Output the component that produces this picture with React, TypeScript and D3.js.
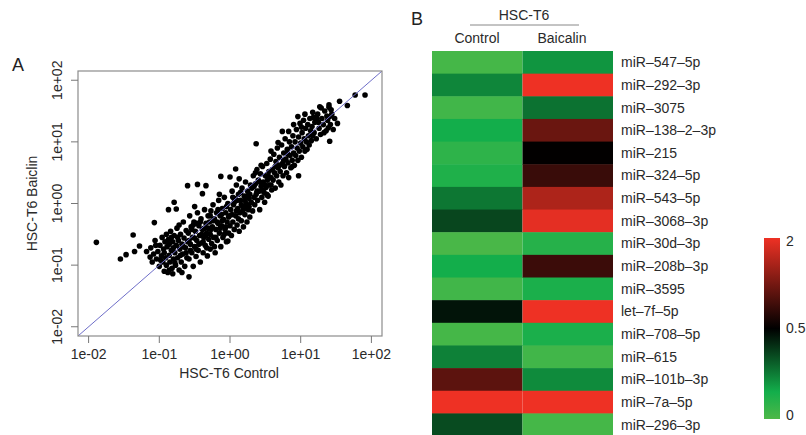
import React, { useEffect, useRef } from 'react';
import * as d3 from 'd3';

// Panel A: log10 expression, [control, baicalin]
const expressionLog10: [number, number][] = [
  // sparse points
  [-1.89, -0.63], [-1.55, -0.9], [-1.47, -0.83], [-1.37, -0.51], [-1.35, -0.78], [-1.28, -0.69],
  [-1.18, -0.78], [-1.07, -0.31], [-1.13, -0.87], [-0.87, -0.1], [-0.76, -0.09], [-0.79, 0.02],
  [-0.6, 0.29], [-0.46, 0.31], [-0.34, 0.29], [-0.58, -1.19], [-0.86, -1.08], [-0.81, -1.14],
  [-0.03, -0.61], [-0.28, -0.74], [0.37, 0.97], [0.58, 0.85], [0.97, 0.45], [0.53, 0.13],
  [0.74, 1.17], [0.83, 1.17], [0.96, 1.41], [1.06, 1.45], [1.17, 1.48], [1.27, 1.57],
  [1.4, 1.56], [1.39, 1.23], [1.41, 1.01], [1.52, 1.3], [1.55, 1.66], [1.66, 1.59],
  [1.77, 1.76], [1.91, 1.76], [0.08, 0.56], [-0.13, 0.44], [0.0, 0.43], [0.68, 0.99],
  [-0.5, -0.05], [-0.39, 0.16], [1.41, 1.41], [1.23, 1.38], [0.9, 1.28], [1.01, 1.24],
  // dense band
  [-1.12, -0.72], [-1.1, -0.95], [-1.08, -0.82], [-1.06, -0.6], [-1.04, -0.9], [-1.02, -0.78],
  [-1.0, -1.02], [-0.99, -0.68], [-0.97, -0.85], [-0.96, -0.55], [-0.95, -0.95], [-0.94, -0.74],
  [-0.93, -1.1], [-0.92, -0.62], [-0.91, -0.88], [-0.9, -0.5], [-0.9, -1.0], [-1.05, -0.68],
  [-0.98, -0.92], [-0.93, -0.8],
  [-0.89, -0.7], [-0.88, -1.12], [-0.87, -0.58], [-0.86, -0.84], [-0.85, -0.95], [-0.84, -0.45],
  [-0.83, -0.76], [-0.82, -1.05], [-0.81, -0.62], [-0.8, -0.9], [-0.79, -0.52], [-0.78, -0.8],
  [-0.77, -1.0], [-0.76, -0.68], [-0.75, -0.4], [-0.74, -0.88], [-0.73, -0.6], [-0.72, -1.08],
  [-0.71, -0.74], [-0.7, -0.5], [-0.69, -0.95], [-0.68, -0.66], [-0.67, -0.82], [-0.66, -0.3],
  [-0.65, -0.56], [-0.64, -1.02], [-0.63, -0.72], [-0.62, -0.44], [-0.61, -0.88], [-0.6, -0.62],
  [-0.86, -0.66], [-0.8, -0.72], [-0.74, -0.55], [-0.7, -0.84], [-0.66, -0.7], [-0.78, -0.96],
  [-0.83, -0.55], [-0.72, -0.35], [-0.68, -1.12], [-0.62, -0.8],
  [-0.59, -0.48], [-0.58, -0.9], [-0.57, -0.2], [-0.56, -0.66], [-0.55, -0.38], [-0.54, -0.8],
  [-0.53, -0.55], [-0.52, -1.02], [-0.51, -0.3], [-0.5, -0.7], [-0.49, -0.45], [-0.48, -0.86],
  [-0.47, -0.6], [-0.46, -0.15], [-0.45, -0.76], [-0.44, -0.36], [-0.43, -0.52], [-0.42, -0.95],
  [-0.41, -0.25], [-0.4, -0.64], [-0.39, -0.42], [-0.38, -0.8], [-0.37, -0.55], [-0.36, -0.1],
  [-0.35, -0.68], [-0.34, -0.32], [-0.33, -0.48], [-0.32, -0.85], [-0.31, -0.2], [-0.3, -0.58],
  [-0.58, -0.6], [-0.54, -0.42], [-0.5, -0.56], [-0.47, -0.32], [-0.44, -0.66], [-0.4, -0.5],
  [-0.36, -0.4], [-0.33, -0.72], [-0.56, -0.76], [-0.52, -0.35], [-0.48, -0.74], [-0.42, -0.3],
  [-0.38, -0.62], [-0.34, -0.52], [-0.31, -0.4],
  [-0.29, -0.3], [-0.28, -0.5], [-0.27, -0.12], [-0.26, -0.65], [-0.25, -0.38], [-0.24, -0.02],
  [-0.23, -0.55], [-0.22, -0.25], [-0.21, -0.8], [-0.2, -0.42], [-0.19, -0.15], [-0.18, -0.6],
  [-0.17, -0.32], [-0.16, 0.05], [-0.15, -0.48], [-0.14, -0.2], [-0.13, -0.7], [-0.12, -0.36],
  [-0.11, -0.08], [-0.1, -0.55], [-0.09, -0.26], [-0.08, 0.1], [-0.07, -0.42], [-0.06, -0.15],
  [-0.05, -0.62], [-0.04, -0.3], [-0.03, 0.0], [-0.02, -0.48], [-0.01, -0.2], [0.0, -0.36],
  [-0.27, -0.42], [-0.24, -0.28], [-0.2, -0.55], [-0.17, -0.1], [-0.14, -0.4], [-0.11, -0.28],
  [-0.08, -0.5], [-0.05, -0.05], [-0.02, -0.22], [-0.22, -0.7], [-0.28, -0.2], [-0.18, -0.3],
  [-0.12, -0.18], [-0.06, -0.38], [-0.15, 0.15],
  [0.01, -0.1], [0.02, -0.52], [0.03, 0.2], [0.04, -0.3], [0.05, -0.02], [0.06, -0.42],
  [0.07, 0.08], [0.08, -0.2], [0.09, 0.3], [0.1, -0.35], [0.11, -0.08], [0.12, 0.15],
  [0.13, -0.45], [0.14, -0.15], [0.15, 0.05], [0.16, -0.28], [0.17, 0.25], [0.18, -0.05],
  [0.19, -0.38], [0.2, 0.12], [0.21, -0.18], [0.22, 0.35], [0.23, 0.0], [0.24, -0.3],
  [0.25, 0.2], [0.26, -0.1], [0.27, 0.08], [0.28, -0.22], [0.29, 0.3], [0.3, 0.02],
  [0.03, -0.18], [0.06, 0.02], [0.09, -0.12], [0.12, -0.25], [0.15, 0.18], [0.18, -0.12],
  [0.21, 0.05], [0.24, 0.12], [0.27, -0.05], [0.04, 0.1], [0.1, 0.05], [0.16, -0.02],
  [0.22, -0.08], [0.28, 0.15], [0.13, 0.4],
  [0.31, 0.25], [0.32, -0.12], [0.33, 0.45], [0.34, 0.1], [0.35, -0.02], [0.36, 0.32],
  [0.37, 0.15], [0.38, 0.55], [0.39, 0.05], [0.4, 0.38], [0.41, 0.2], [0.42, -0.1],
  [0.43, 0.48], [0.44, 0.28], [0.45, 0.1], [0.46, 0.6], [0.47, 0.35], [0.48, 0.18],
  [0.49, 0.02], [0.5, 0.45], [0.51, 0.26], [0.52, 0.65], [0.53, 0.38], [0.54, 0.12],
  [0.55, 0.52], [0.56, 0.3], [0.57, 0.72], [0.58, 0.42], [0.59, 0.22], [0.6, 0.55],
  [0.34, 0.28], [0.38, 0.2], [0.42, 0.35], [0.46, 0.22], [0.5, 0.3], [0.54, 0.45],
  [0.58, 0.3], [0.36, 0.5], [0.44, 0.62], [0.52, 0.15],
  [0.61, 0.38], [0.62, 0.8], [0.63, 0.5], [0.64, 0.25], [0.65, 0.68], [0.66, 0.45],
  [0.67, 0.9], [0.68, 0.58], [0.69, 0.35], [0.7, 0.75], [0.71, 0.52], [0.72, 0.3],
  [0.73, 0.95], [0.74, 0.65], [0.75, 0.45], [0.76, 0.82], [0.77, 0.6], [0.78, 1.05],
  [0.79, 0.72], [0.8, 0.5], [0.81, 0.88], [0.82, 0.66], [0.83, 0.42], [0.84, 1.0],
  [0.85, 0.78], [0.86, 0.58], [0.87, 0.92], [0.88, 0.7], [0.89, 1.1], [0.9, 0.82],
  [0.64, 0.6], [0.7, 0.62], [0.76, 0.7], [0.82, 0.8], [0.88, 0.6],
  [0.91, 0.62], [0.92, 1.0], [0.93, 0.78], [0.94, 1.2], [0.95, 0.9], [0.96, 0.7],
  [0.97, 1.08], [0.98, 0.85], [0.99, 1.3], [1.0, 0.98], [1.01, 0.75], [1.02, 1.15],
  [1.03, 0.92], [1.04, 1.35], [1.05, 1.05], [1.06, 0.85], [1.07, 1.22], [1.08, 1.0],
  [1.09, 0.88], [1.1, 1.28], [1.11, 1.1], [1.12, 0.95], [1.13, 1.38], [1.14, 1.18],
  [1.15, 1.02], [1.16, 1.25], [1.17, 1.1], [1.18, 1.4], [1.19, 1.15], [1.2, 1.32],
  [1.22, 1.05], [1.24, 1.45], [1.26, 1.22], [1.28, 1.12], [1.3, 1.38], [1.32, 1.28],
  [1.34, 1.5], [1.36, 1.18], [1.38, 1.35], [1.4, 1.6], [1.42, 1.28], [1.44, 1.45],
  [1.46, 1.2], [1.48, 1.38], [1.25, 1.32], [1.33, 1.15], [1.21, 1.4], [1.29, 1.55],
  [1.37, 1.42], [1.43, 1.52],
];

const logTicks = [0.01, 0.1, 1, 10, 100];
const logTickLabels = ['1e-02', '1e-01', '1e+00', '1e+01', '1e+02'];

// Panel B: heatmap
const mirnas = [
  'miR–547–5p', 'miR–292–3p', 'miR–3075', 'miR–138–2–3p', 'miR–215', 'miR–324–5p',
  'miR–543–5p', 'miR–3068–3p', 'miR–30d–3p', 'miR–208b–3p', 'miR–3595', 'let–7f–5p',
  'miR–708–5p', 'miR–615', 'miR–101b–3p', 'miR–7a–5p', 'miR–296–3p',
];
const groups = ['Control', 'Baicalin'];
const controlValues = [0.02, 0.23, 0.03, 0.15, 0.08, 0.12, 0.26, 0.36, 0.01, 0.15, 0.03, 0.46, 0.02, 0.24, 1.08, 2.0, 0.35];
const baicalinValues = [0.2, 2.0, 0.27, 1.17, 0.51, 0.86, 1.59, 1.94, 0.1, 0.87, 0.13, 2.0, 0.13, 0.03, 0.22, 2.0, 0.02];
const legendTicks = [0, 0.5, 2];

const FONT = '"Liberation Sans", Arial, Helvetica, sans-serif';
const TEXT = '#2a2a2a';

export default function App() {
  const svgRef = useRef<SVGSVGElement>(null);

  useEffect(() => {
    if (!svgRef.current) return;
    const svg = d3.select(svgRef.current);
    svg.selectAll('*').remove();
    svg.style('font-family', FONT);

    // ---------- Panel A ----------
    const box = { left: 78, right: 382, top: 71, bottom: 336 };
    const lo = Math.pow(10, -2.15);
    const hi = Math.pow(10, 2.15);
    const x = d3.scaleLog().domain([lo, hi]).range([box.left, box.right]);
    const y = d3.scaleLog().domain([lo, hi]).range([box.bottom, box.top]);

    svg.append('text').attr('x', 12).attr('y', 71).text('A')
      .style('font-size', '18px').attr('fill', '#222');

    const clipId = 'clipA';
    svg.append('clipPath').attr('id', clipId).append('rect')
      .attr('x', box.left).attr('y', box.top)
      .attr('width', box.right - box.left).attr('height', box.bottom - box.top);

    const plot = svg.append('g').attr('clip-path', `url(#${clipId})`);
    plot.selectAll('circle')
      .data(expressionLog10)
      .enter()
      .append('circle')
      .attr('cx', d => x(Math.pow(10, d[0])))
      .attr('cy', d => y(Math.pow(10, d[1])))
      .attr('r', 2.8)
      .attr('fill', '#000');

    plot.append('line')
      .attr('x1', x(lo)).attr('y1', y(lo))
      .attr('x2', x(hi)).attr('y2', y(hi))
      .attr('stroke', '#6e6ec8').attr('stroke-width', 1);

    svg.append('rect')
      .attr('x', box.left).attr('y', box.top)
      .attr('width', box.right - box.left).attr('height', box.bottom - box.top)
      .attr('fill', 'none').attr('stroke', '#8c8c8c').attr('stroke-width', 1.2);

    // x axis
    const xAxis = svg.append('g').attr('transform', `translate(0,${box.bottom})`);
    xAxis.selectAll('line').data(logTicks).enter().append('line')
      .attr('x1', d => x(d)).attr('x2', d => x(d))
      .attr('y1', 0).attr('y2', 7)
      .attr('stroke', '#777');
    xAxis.selectAll('text').data(logTicks).enter().append('text')
      .attr('x', d => x(d)).attr('y', 23)
      .attr('text-anchor', 'middle')
      .text((d, i) => logTickLabels[i])
      .style('font-size', '14px').attr('fill', TEXT);

    // y axis
    const yAxis = svg.append('g').attr('transform', `translate(${box.left},0)`);
    yAxis.selectAll('line').data(logTicks).enter().append('line')
      .attr('x1', 0).attr('x2', -7)
      .attr('y1', d => y(d)).attr('y2', d => y(d))
      .attr('stroke', '#777');
    yAxis.selectAll('text').data(logTicks).enter().append('text')
      .attr('transform', d => `translate(-16,${y(d)}) rotate(-90)`)
      .attr('text-anchor', 'middle')
      .text((d, i) => logTickLabels[i])
      .style('font-size', '14px').attr('fill', TEXT);

    svg.append('text')
      .attr('x', (box.left + box.right) / 2 - 1).attr('y', 378)
      .attr('text-anchor', 'middle')
      .text('HSC-T6 Control')
      .style('font-size', '14px').attr('fill', TEXT);

    svg.append('text')
      .attr('transform', `translate(37,${(box.top + box.bottom) / 2}) rotate(-90)`)
      .attr('text-anchor', 'middle')
      .text('HSC-T6 Baiclin')
      .style('font-size', '14px').attr('fill', TEXT);

    // ---------- Panel B ----------
    const hm = { left: 432, right: 613, top: 51 };
    const rowH = 22.65;
    const colX = d3.scaleBand().domain(groups).range([hm.left, hm.right]);
    const rowY = d3.scaleBand().domain(mirnas).range([hm.top, hm.top + rowH * mirnas.length]);

    const color = d3.scaleLinear<string>()
      .domain([0, 0.15, 0.5, 2])
      .range(['#4db848', '#13ae4b', '#000000', '#ee3124'])
      .interpolate(d3.interpolateRgb);

    svg.append('text').attr('x', 411).attr('y', 25).text('B')
      .style('font-size', '18px').attr('fill', '#222');
    svg.append('text').attr('x', 524).attr('y', 20).attr('text-anchor', 'middle')
      .text('HSC-T6').style('font-size', '14px').attr('fill', TEXT);
    svg.append('line').attr('x1', 470).attr('x2', 579).attr('y1', 25).attr('y2', 25)
      .attr('stroke', '#888').attr('stroke-width', 1);
    svg.append('text').attr('x', 477).attr('y', 43).attr('text-anchor', 'middle')
      .text('Control').style('font-size', '14px').attr('fill', TEXT);
    svg.append('text').attr('x', 562).attr('y', 43).attr('text-anchor', 'middle')
      .text('Baicalin').style('font-size', '14px').attr('fill', TEXT);

    const cells = mirnas.flatMap((m, i) => [
      { row: m, col: groups[0], value: controlValues[i] },
      { row: m, col: groups[1], value: baicalinValues[i] },
    ]);
    svg.append('g').selectAll('rect').data(cells).enter().append('rect')
      .attr('x', d => colX(d.col)!)
      .attr('y', d => rowY(d.row)!)
      .attr('width', colX.bandwidth())
      .attr('height', rowY.bandwidth() + 0.5)
      .attr('fill', d => color(d.value));

    svg.append('g').selectAll('text').data(mirnas).enter().append('text')
      .attr('x', hm.right + 8)
      .attr('y', d => rowY(d)! + rowY.bandwidth() / 2)
      .attr('dy', '0.35em')
      .text(d => d)
      .style('font-size', '14px').attr('fill', TEXT);

    // color key
    const key = { x: 764, width: 16, top: 238, bottom: 419 };
    const keyY = d3.scaleLinear().domain([0, 0.5, 2]).range([key.bottom, (key.top + key.bottom) / 2, key.top]);
    const grad = svg.append('defs').append('linearGradient')
      .attr('id', 'keyGrad').attr('x1', 0).attr('y1', 1).attr('x2', 0).attr('y2', 0);
    color.domain().forEach(v => {
      grad.append('stop')
        .attr('offset', (key.bottom - keyY(v)) / (key.bottom - key.top))
        .attr('stop-color', color(v));
    });
    svg.append('rect')
      .attr('x', key.x).attr('y', key.top)
      .attr('width', key.width).attr('height', key.bottom - key.top)
      .attr('fill', 'url(#keyGrad)');
    svg.append('g').selectAll('text').data(legendTicks).enter().append('text')
      .attr('x', key.x + key.width + 6)
      .attr('y', d => keyY(d))
      .attr('dy', d => (d === 2 ? '0.55em' : d === 0 ? '0.05em' : '0.35em'))
      .text(d => String(d))
      .style('font-size', '14px').attr('fill', TEXT);
  }, []);

  return (
    <svg
      ref={svgRef}
      width={806}
      height={435}
      style={{ position: 'absolute', left: 0, top: 0, background: '#fff' }}
    />
  );
}
